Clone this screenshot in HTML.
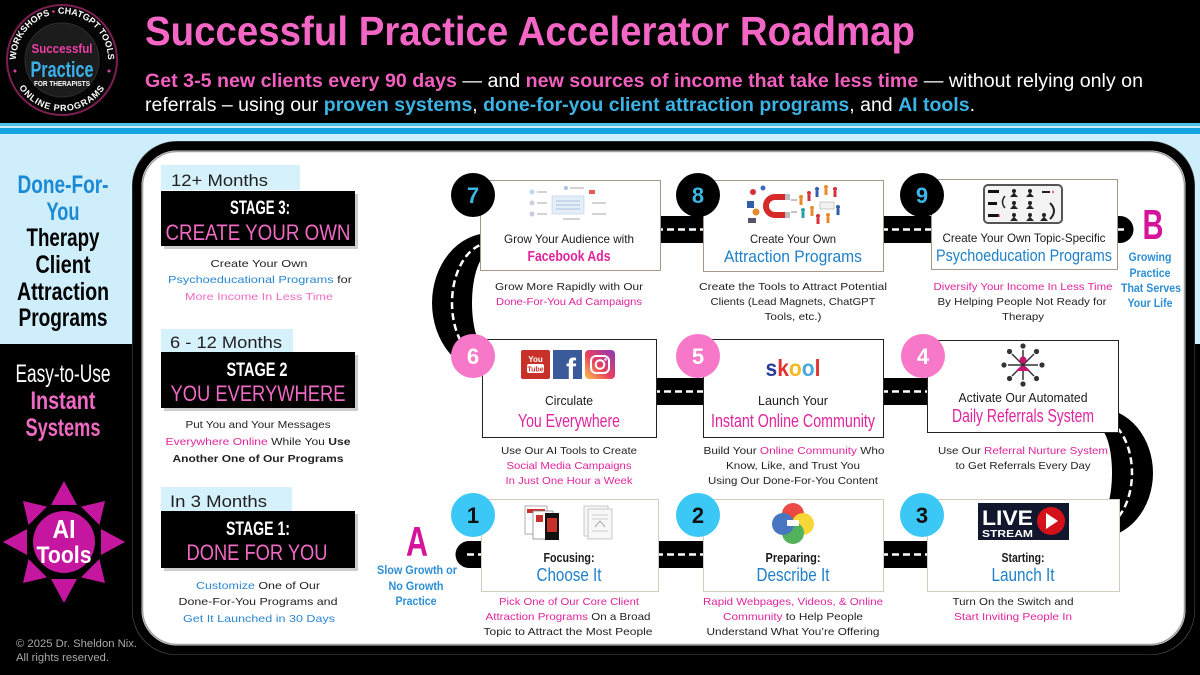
<!DOCTYPE html>
<html><head><meta charset="utf-8">
<style>
html,body{margin:0;padding:0;background:#000;}
svg{display:block;}
text{font-family:"Liberation Sans",Arial,sans-serif;}
.d{font-size:10.5px;fill:#222;}
.pk{fill:#e0249c;}
.bl{fill:#1f80c8;}
.t12{font-size:12px;fill:#1a1a1a;}
.num{font-size:22px;font-weight:bold;}
</style></head><body>
<svg width="1200" height="675" viewBox="0 0 1200 675" xmlns="http://www.w3.org/2000/svg">
<defs>
<linearGradient id="ig" x1="0" y1="1" x2="1" y2="0">
<stop offset="0" stop-color="#fcc34f"/><stop offset="0.45" stop-color="#e8415e"/><stop offset="1" stop-color="#8a3ab9"/>
</linearGradient>
<path id="topArc" d="M16.2,64 A46,46 0 1 1 107.8,64"/>
<path id="botArc" d="M17.8,85.5 A51,51 0 0 0 106.2,85.5"/>
</defs>

<rect width="1200" height="675" fill="#000"/>
<!-- stripes + pale band -->
<rect x="0" y="123" width="1200" height="3" fill="#4fc3ee"/>
<rect x="0" y="126" width="1200" height="2" fill="#c9eefa"/>
<rect x="0" y="128" width="1200" height="6" fill="#12a5e0"/>
<rect x="0" y="134" width="1200" height="210" fill="#cdeefa"/>

<!-- LOGO -->
<circle cx="62" cy="60" r="55" fill="#050505" stroke="#7c1e52" stroke-width="2"/>
<circle cx="62" cy="60" r="37" fill="#1c1c1c" stroke="#2e2e2e" stroke-width="1"/>
<text font-size="9" font-weight="bold" fill="#fff"><textPath href="#topArc" startOffset="50%" text-anchor="middle">WORKSHOPS <tspan fill="#e0409f">•</tspan> CHATGPT TOOLS</textPath></text>
<text font-size="9" font-weight="bold" fill="#fff" letter-spacing="0.8"><textPath href="#botArc" startOffset="50%" text-anchor="middle">ONLINE PROGRAMS</textPath></text>
<circle cx="15" cy="71" r="1.5" fill="#e0409f"/>
<circle cx="109" cy="71" r="1.5" fill="#e0409f"/>
<text x="62" y="53" font-size="13" font-weight="bold" fill="#ef3fa7" text-anchor="middle" textLength="61" lengthAdjust="spacingAndGlyphs">Successful</text>
<text x="62" y="77" font-size="22" font-weight="bold" fill="#3ab0ea" text-anchor="middle" textLength="63" lengthAdjust="spacingAndGlyphs">Practice</text>
<text x="62" y="86" font-size="7" font-weight="bold" fill="#fff" text-anchor="middle" textLength="56" lengthAdjust="spacingAndGlyphs">FOR THERAPISTS</text>

<!-- TITLE -->
<text x="145" y="45" font-size="41" font-weight="bold" fill="#f466c6" textLength="770" lengthAdjust="spacingAndGlyphs">Successful Practice Accelerator Roadmap</text>
<text x="145" y="87" font-size="19" fill="#fff" textLength="998" lengthAdjust="spacingAndGlyphs"><tspan fill="#f25fbf" font-weight="bold">Get 3-5 new clients every 90 days</tspan> — and <tspan fill="#f25fbf" font-weight="bold">new sources of income that take less time</tspan> — without relying only on</text>
<text x="145" y="111" font-size="19" fill="#fff" textLength="830" lengthAdjust="spacingAndGlyphs">referrals – using our <tspan fill="#3bb4e5" font-weight="bold">proven systems</tspan>, <tspan fill="#3bb4e5" font-weight="bold">done-for-you client attraction programs</tspan>, and <tspan fill="#3bb4e5" font-weight="bold">AI tools</tspan>.</text>

<!-- LEFT SIDEBAR -->
<g font-weight="bold" font-size="25" text-anchor="middle">
<text x="63" y="193" fill="#1b8ad6" textLength="91" lengthAdjust="spacingAndGlyphs">Done-For-</text>
<text x="63" y="220" fill="#1b8ad6" textLength="33" lengthAdjust="spacingAndGlyphs">You</text>
<text x="63" y="246" fill="#000" textLength="73" lengthAdjust="spacingAndGlyphs">Therapy</text>
<text x="63" y="273" fill="#000" textLength="55" lengthAdjust="spacingAndGlyphs">Client</text>
<text x="63" y="300" fill="#000" textLength="92" lengthAdjust="spacingAndGlyphs">Attraction</text>
<text x="63" y="326" fill="#000" textLength="89" lengthAdjust="spacingAndGlyphs">Programs</text>
<text x="63" y="382" fill="#fff" font-weight="normal" textLength="95" lengthAdjust="spacingAndGlyphs">Easy-to-Use</text>
<text x="63" y="409" fill="#f06ac4" textLength="65" lengthAdjust="spacingAndGlyphs">Instant</text>
<text x="63" y="436" fill="#f06ac4" textLength="75" lengthAdjust="spacingAndGlyphs">Systems</text>
</g>

<!-- AI STAR -->
<g fill="#c4169e">
<polygon points="64,481 51,505 77,505"/>
<polygon points="64,603 51,579 77,579"/>
<polygon points="3,542 27,529 27,555"/>
<polygon points="125,542 101,529 101,555"/>
<polygon points="105,501 99.4,525 81,506.6"/>
<polygon points="105,583 81,577.4 99.4,559"/>
<polygon points="23,583 47,577.4 28.6,559"/>
<polygon points="23,501 47,506.6 28.6,525"/>
<circle cx="64" cy="542" r="31"/>
</g>
<text x="64" y="538" font-size="26" font-weight="bold" fill="#fff" text-anchor="middle" textLength="23" lengthAdjust="spacingAndGlyphs">AI</text>
<text x="64" y="563" font-size="24" font-weight="bold" fill="#fff" text-anchor="middle" textLength="55" lengthAdjust="spacingAndGlyphs">Tools</text>

<text x="16" y="647" font-size="11" fill="#aaa" textLength="121" lengthAdjust="spacingAndGlyphs">© 2025 Dr. Sheldon Nix.</text>
<text x="16" y="661" font-size="11" fill="#aaa" textLength="93" lengthAdjust="spacingAndGlyphs">All rights reserved.</text>

<!-- FRAME -->
<rect x="132.5" y="141.5" width="1062" height="513" rx="44" fill="none" stroke="#555" stroke-width="1"/>
<rect x="137" y="146" width="1053" height="504" rx="40" fill="#fff" stroke="#000" stroke-width="9"/>
<rect x="142.5" y="151.5" width="1042" height="493" rx="35" fill="none" stroke="#a0a0a0" stroke-width="1.5"/>

<!-- STAGE COLUMN -->
<rect x="161" y="165" width="139" height="25" fill="#d5f1fb"/>
<text x="171" y="186" font-size="17" fill="#222" textLength="97" lengthAdjust="spacingAndGlyphs">12+ Months</text>
<rect x="164" y="194" width="194" height="55" fill="#999" opacity="0.5"/>
<rect x="161" y="191" width="194" height="55" fill="#000"/>
<text x="260" y="214" font-size="19" font-weight="bold" fill="#fff" text-anchor="middle" textLength="60" lengthAdjust="spacingAndGlyphs">STAGE 3:</text>
<text x="258" y="240" font-size="22" fill="#f06ac4" text-anchor="middle" textLength="185" lengthAdjust="spacingAndGlyphs">CREATE YOUR OWN</text>
<g class="d" text-anchor="middle" font-size="11">
<text x="259" y="267" textLength="97" lengthAdjust="spacingAndGlyphs">Create Your Own</text>
<text x="260" y="283" textLength="184" lengthAdjust="spacingAndGlyphs"><tspan fill="#2a86d0">Psychoeducational Programs</tspan> for</text>
<text x="259" y="300" fill="#f06ac4" textLength="148" lengthAdjust="spacingAndGlyphs">More Income In Less Time</text>
</g>

<rect x="161" y="329" width="132" height="24" fill="#d5f1fb"/>
<text x="170" y="348" font-size="17" fill="#222" textLength="112" lengthAdjust="spacingAndGlyphs">6 - 12 Months</text>
<rect x="164" y="355" width="194" height="56" fill="#999" opacity="0.5"/>
<rect x="161" y="352" width="194" height="56" fill="#000"/>
<text x="257" y="376" font-size="19" font-weight="bold" fill="#fff" text-anchor="middle" textLength="61" lengthAdjust="spacingAndGlyphs">STAGE 2</text>
<text x="258" y="401" font-size="22" fill="#f06ac4" text-anchor="middle" textLength="175" lengthAdjust="spacingAndGlyphs">YOU EVERYWHERE</text>
<g class="d" text-anchor="middle" font-size="11">
<text x="258" y="428" textLength="145" lengthAdjust="spacingAndGlyphs">Put You and Your Messages</text>
<text x="258" y="445" textLength="185" lengthAdjust="spacingAndGlyphs"><tspan fill="#e0249c">Everywhere Online</tspan> While You <tspan font-weight="bold">Use</tspan></text>
<text x="258" y="462" font-weight="bold" textLength="171" lengthAdjust="spacingAndGlyphs">Another One of Our Programs</text>
</g>

<rect x="161" y="487" width="131" height="24" fill="#d5f1fb"/>
<text x="170" y="507" font-size="17" fill="#222" textLength="97" lengthAdjust="spacingAndGlyphs">In 3 Months</text>
<rect x="164" y="514" width="194" height="57" fill="#999" opacity="0.5"/>
<rect x="161" y="511" width="194" height="57" fill="#000"/>
<text x="258" y="535" font-size="19" font-weight="bold" fill="#fff" text-anchor="middle" textLength="64" lengthAdjust="spacingAndGlyphs">STAGE 1:</text>
<text x="257" y="560" font-size="22" fill="#f06ac4" text-anchor="middle" textLength="141" lengthAdjust="spacingAndGlyphs">DONE FOR YOU</text>
<g class="d" text-anchor="middle" font-size="11">
<text x="258" y="589" textLength="124" lengthAdjust="spacingAndGlyphs"><tspan fill="#2a86d0">Customize</tspan> One of Our</text>
<text x="258" y="605" textLength="159" lengthAdjust="spacingAndGlyphs">Done-For-You Programs and</text>
<text x="259" y="622" fill="#2a86d0" textLength="152" lengthAdjust="spacingAndGlyphs">Get It Launched in 30 Days</text>
</g>

<!-- ROADS -->
<g fill="#000">
<rect x="655" y="216" width="52" height="27"/>
<rect x="880" y="216" width="55" height="27"/>
<path d="M1112,216 H1120 A13.5,13.5 0 0 1 1120,243 H1112 Z"/>
<rect x="652" y="378" width="55" height="27"/>
<rect x="880" y="378" width="52" height="27"/>
<rect x="655" y="541" width="52" height="27"/>
<rect x="880" y="541" width="52" height="27"/>
<path d="M485,541 H469 A13.5,13.5 0 0 0 469,568 H485 Z"/>
<path d="M490,233 A58,70 0 0 0 490,373 L490,353 A18,50 0 0 1 490,253 Z"/>
<path d="M1098,408 A55,65 0 0 1 1098,538 L1098,518 A14,45 0 0 0 1098,428 Z"/>
</g>
<g stroke="#fff" stroke-width="2.5" fill="none" stroke-dasharray="7 4">
<line x1="656" y1="229.5" x2="706" y2="229.5"/>
<line x1="881" y1="229.5" x2="934" y2="229.5"/>
<line x1="1117" y1="229.5" x2="1125" y2="229.5"/>
<line x1="653" y1="391.5" x2="706" y2="391.5"/>
<line x1="881" y1="391.5" x2="931" y2="391.5"/>
<line x1="656" y1="554.5" x2="706" y2="554.5"/>
<line x1="881" y1="554.5" x2="931" y2="554.5"/>
<line x1="467" y1="554.5" x2="484" y2="554.5"/>
<path d="M490,243 A38,60 0 0 0 490,363"/>
<path d="M1098,418 A34,55 0 0 1 1098,528"/>
</g>

<!-- ROW 1 CARDS -->
<rect x="480.5" y="180.5" width="180" height="90" fill="#fff" stroke="#a89888"/>
<rect x="703.5" y="180.5" width="180" height="91" fill="#fff" stroke="#a89888"/>
<rect x="931.5" y="179.5" width="186" height="90" fill="#fff" stroke="#a89888"/>

<!-- card7 image -->
<g>
<rect x="552" y="196" width="32" height="18" fill="#e3eef9" stroke="#b8cde2" stroke-width="0.6"/>
<g stroke="#a9c1da" stroke-width="1"><line x1="556" y1="201" x2="580" y2="201"/><line x1="556" y1="205" x2="580" y2="205"/><line x1="556" y1="209" x2="580" y2="209"/></g>
<circle cx="532" cy="192" r="2.5" fill="#c3d6ea"/><circle cx="532" cy="203" r="2.5" fill="#c9d2dc"/><circle cx="532" cy="214" r="2.5" fill="#d0c8dc"/>
<g stroke="#c4c4c4" stroke-width="1.5"><line x1="537" y1="192" x2="547" y2="192"/><line x1="537" y1="203" x2="547" y2="203"/><line x1="537" y1="214" x2="547" y2="214"/><line x1="592" y1="203" x2="606" y2="203"/><line x1="592" y1="214" x2="606" y2="214"/><line x1="563" y1="219" x2="580" y2="219"/><line x1="570" y1="188" x2="584" y2="188"/></g>
<rect x="589" y="190" width="6" height="4" fill="#e35a5a"/><circle cx="566" cy="188" r="2" fill="#a8c3e0"/>
</g>
<!-- card8 image -->
<g>
<path d="M787,197 H775 A9,9 0 0 0 775,215 H787" stroke="#d62a2a" stroke-width="6" fill="none"/>
<rect x="785" y="194" width="5" height="6" fill="#bbb"/><rect x="785" y="212" width="5" height="6" fill="#bbb"/>
<circle cx="753" cy="192" r="3" fill="#d2323a"/><rect x="747" y="201" width="7" height="7" fill="#2f5fa8"/><circle cx="756" cy="212" r="3.5" fill="#e8892b"/><rect x="748" y="218" width="8" height="5" fill="#556"/><circle cx="763" cy="188" r="2.5" fill="#3a6bb8"/>
<g stroke="#999" stroke-width="1.2"><line x1="791" y1="200" x2="797" y2="200"/><line x1="791" y1="212" x2="797" y2="212"/></g>
<g>
<circle cx="801" cy="197" r="2" fill="#e8892b"/><rect x="799.5" y="199" width="3" height="6" fill="#e8892b"/>
<circle cx="809" cy="193" r="2" fill="#d2323a"/><rect x="807.5" y="195" width="3" height="6" fill="#d2323a"/>
<circle cx="817" cy="189" r="2" fill="#2f5fa8"/><rect x="815.5" y="191" width="3" height="6" fill="#2f5fa8"/>
<circle cx="826" cy="187" r="2" fill="#e8892b"/><rect x="824.5" y="189" width="3" height="6" fill="#e8892b"/>
<circle cx="835" cy="189" r="2" fill="#d2323a"/><rect x="833.5" y="191" width="3" height="6" fill="#d2323a"/>
<circle cx="803" cy="210" r="2" fill="#2aa0a0"/><rect x="801.5" y="212" width="3" height="6" fill="#2aa0a0"/>
<circle cx="812" cy="208" r="2" fill="#e8892b"/><rect x="810.5" y="210" width="3" height="6" fill="#e8892b"/>
<rect x="820" y="202" width="14" height="7" fill="#f2f2f2" stroke="#999" stroke-width="0.5"/>
<circle cx="838" cy="207" r="2" fill="#2f5fa8"/><rect x="836.5" y="209" width="3" height="6" fill="#2f5fa8"/>
<circle cx="818" cy="216" r="2" fill="#d2323a"/><rect x="816.5" y="218" width="3" height="6" fill="#d2323a"/>
<circle cx="828" cy="215" r="2" fill="#e8892b"/><rect x="826.5" y="217" width="3" height="6" fill="#e8892b"/>
</g>
</g>
<!-- card9 icon -->
<g>
<rect x="984" y="185" width="78" height="38" rx="4" fill="#f3f3f3" stroke="#555" stroke-width="2"/>
<rect x="988" y="190" width="11" height="3" fill="#111"/><rect x="988" y="202" width="9" height="3" fill="#111"/><rect x="988" y="214" width="11" height="3" fill="#111"/>
<g fill="#222">
<circle cx="1014" cy="191" r="2"/><path d="M1010,197 L1014,192.5 L1018,197 Z"/>
<circle cx="1030" cy="191" r="2"/><path d="M1026,197 L1030,192.5 L1034,197 Z"/>
<circle cx="1014" cy="203" r="2"/><path d="M1010,209 L1014,204.5 L1018,209 Z"/>
<circle cx="1030" cy="203" r="2"/><path d="M1026,209 L1030,204.5 L1034,209 Z"/>
<circle cx="1014" cy="215" r="2"/><path d="M1010,221 L1014,216.5 L1018,221 Z"/>
<circle cx="1030" cy="215" r="2"/><path d="M1026,221 L1030,216.5 L1034,221 Z"/>
<circle cx="1044" cy="215" r="2"/><path d="M1040,221 L1044,216.5 L1048,221 Z"/>
</g>
<path d="M1005,196 Q1000,202 1005,208" stroke="#222" stroke-width="1.5" fill="none"/>
<path d="M1050,203 Q1058,211 1050,219" stroke="#222" stroke-width="2" fill="none"/>
<rect x="1042" y="191" width="8" height="2" fill="#222"/>
<circle cx="1053" cy="192" r="1" fill="#e0249c"/><circle cx="999" cy="216" r="1" fill="#e0249c"/>
</g>

<text x="569" y="243" class="t12" text-anchor="middle" textLength="130" lengthAdjust="spacingAndGlyphs">Grow Your Audience with</text>
<text x="569" y="261" font-size="15" font-weight="bold" class="pk" text-anchor="middle" textLength="83" lengthAdjust="spacingAndGlyphs">Facebook Ads</text>
<text x="793" y="243" class="t12" text-anchor="middle" textLength="86" lengthAdjust="spacingAndGlyphs">Create Your Own</text>
<text x="793" y="262" font-size="17" class="bl" text-anchor="middle" textLength="138" lengthAdjust="spacingAndGlyphs">Attraction Programs</text>
<text x="1024" y="242" class="t12" text-anchor="middle" textLength="163" lengthAdjust="spacingAndGlyphs">Create Your Own Topic-Specific</text>
<text x="1024" y="261" font-size="17" class="bl" text-anchor="middle" textLength="176" lengthAdjust="spacingAndGlyphs">Psychoeducation Programs</text>

<g class="d" text-anchor="middle">
<text x="569" y="290" textLength="148" lengthAdjust="spacingAndGlyphs">Grow More Rapidly with Our</text>
<text x="569" y="305" class="pk" textLength="146" lengthAdjust="spacingAndGlyphs">Done-For-You Ad Campaigns</text>
<text x="793" y="290" textLength="188" lengthAdjust="spacingAndGlyphs">Create the Tools to Attract Potential</text>
<text x="793" y="305" textLength="165" lengthAdjust="spacingAndGlyphs">Clients (Lead Magnets, ChatGPT</text>
<text x="793" y="320" textLength="57" lengthAdjust="spacingAndGlyphs">Tools, etc.)</text>
<text x="1023" y="290" class="pk" textLength="179" lengthAdjust="spacingAndGlyphs">Diversify Your Income In Less Time</text>
<text x="1022" y="305" textLength="169" lengthAdjust="spacingAndGlyphs">By Helping People Not Ready for</text>
<text x="1023" y="320" textLength="42" lengthAdjust="spacingAndGlyphs">Therapy</text>
</g>

<!-- B -->
<text transform="translate(1153,239) scale(1,1.35)" x="0" y="0" font-size="31" font-weight="bold" fill="#d6139b" text-anchor="middle" textLength="21" lengthAdjust="spacingAndGlyphs">B</text>
<g font-size="12" font-weight="bold" fill="#2c8fd4" text-anchor="middle">
<text x="1150" y="261" textLength="43" lengthAdjust="spacingAndGlyphs">Growing</text>
<text x="1150" y="277" textLength="41" lengthAdjust="spacingAndGlyphs">Practice</text>
<text x="1151" y="292" textLength="60" lengthAdjust="spacingAndGlyphs">That Serves</text>
<text x="1150" y="307" textLength="45" lengthAdjust="spacingAndGlyphs">Your Life</text>
</g>

<!-- ROW 2 CARDS -->
<rect x="482.5" y="339.5" width="174" height="98" fill="#fff" stroke="#222"/>
<rect x="703.5" y="339.5" width="180" height="98" fill="#fff" stroke="#222"/>
<rect x="927.5" y="340.5" width="191" height="92" fill="#fff" stroke="#222"/>

<!-- socials -->
<rect x="521" y="350" width="29" height="29" rx="2" fill="#c8312a"/>
<text x="535.5" y="362" font-size="8" font-weight="bold" fill="#fff" text-anchor="middle">You</text>
<rect x="527" y="364" width="17" height="9" rx="2" fill="#fff"/>
<text x="535.5" y="371.5" font-size="7" font-weight="bold" fill="#c8312a" text-anchor="middle">Tube</text>
<rect x="553" y="350" width="29" height="29" fill="#3b5a9a"/>
<text x="571" y="379" font-size="30" font-weight="bold" fill="#fff" text-anchor="middle">f</text>
<rect x="585" y="350" width="30" height="29" rx="4" fill="url(#ig)"/>
<rect x="591" y="356" width="18" height="17" rx="5" fill="none" stroke="#fff" stroke-width="2"/>
<circle cx="600" cy="364.5" r="4.3" fill="none" stroke="#fff" stroke-width="2"/>
<circle cx="605.5" cy="359.5" r="1.2" fill="#fff"/>

<!-- skool -->
<text x="793" y="376" font-size="23" font-weight="bold" text-anchor="middle" textLength="55" lengthAdjust="spacingAndGlyphs"><tspan fill="#283c9e">s</tspan><tspan fill="#e2322f">k</tspan><tspan fill="#f5b820">o</tspan><tspan fill="#49a9dc">o</tspan><tspan fill="#e2322f">l</tspan></text>

<!-- network icon -->
<g stroke="#333" stroke-width="1.5">
<line x1="1023" y1="365" x2="1023" y2="350"/><line x1="1023" y1="365" x2="1034" y2="354"/><line x1="1023" y1="365" x2="1038" y2="365"/><line x1="1023" y1="365" x2="1034" y2="376"/><line x1="1023" y1="365" x2="1023" y2="380"/><line x1="1023" y1="365" x2="1012" y2="376"/><line x1="1023" y1="365" x2="1008" y2="365"/><line x1="1023" y1="365" x2="1012" y2="354"/>
</g>
<g fill="#333">
<circle cx="1023" cy="346" r="2.6"/><circle cx="1036.5" cy="351.5" r="2.6"/><circle cx="1042" cy="365" r="2.6"/><circle cx="1036.5" cy="378.5" r="2.6"/><circle cx="1023" cy="384" r="2.6"/><circle cx="1009.5" cy="378.5" r="2.6"/><circle cx="1004" cy="365" r="2.6"/><circle cx="1009.5" cy="351.5" r="2.6"/>
</g>
<circle cx="1023" cy="360" r="3.5" fill="#c4166e"/>
<path d="M1016,371 Q1023,361 1030,371 Z" fill="#c4166e"/>

<text x="569" y="405" font-size="13" fill="#1a1a1a" text-anchor="middle" textLength="48" lengthAdjust="spacingAndGlyphs">Circulate</text>
<text x="569" y="427" font-size="18" class="pk" text-anchor="middle" textLength="102" lengthAdjust="spacingAndGlyphs">You Everywhere</text>
<text x="793" y="405" font-size="13" fill="#1a1a1a" text-anchor="middle" textLength="70" lengthAdjust="spacingAndGlyphs">Launch Your</text>
<text x="793" y="427" font-size="18" class="pk" text-anchor="middle" textLength="164" lengthAdjust="spacingAndGlyphs">Instant Online Community</text>
<text x="1023" y="402" font-size="13" fill="#1a1a1a" text-anchor="middle" textLength="129" lengthAdjust="spacingAndGlyphs">Activate Our Automated</text>
<text x="1023" y="422" font-size="18" class="pk" text-anchor="middle" textLength="142" lengthAdjust="spacingAndGlyphs">Daily Referrals System</text>

<g class="d" text-anchor="middle">
<text x="569" y="454" textLength="136" lengthAdjust="spacingAndGlyphs">Use Our AI Tools to Create</text>
<text x="569" y="469" class="pk" textLength="125" lengthAdjust="spacingAndGlyphs">Social Media Campaigns</text>
<text x="569" y="484" class="pk" textLength="127" lengthAdjust="spacingAndGlyphs">In Just One Hour a Week</text>
<text x="794" y="454" textLength="181" lengthAdjust="spacingAndGlyphs">Build Your <tspan fill="#e0249c">Online Community</tspan> Who</text>
<text x="793" y="469" textLength="134" lengthAdjust="spacingAndGlyphs">Know, Like, and Trust You</text>
<text x="793" y="484" textLength="170" lengthAdjust="spacingAndGlyphs">Using Our Done-For-You Content</text>
<text x="1023" y="454" textLength="170" lengthAdjust="spacingAndGlyphs">Use Our <tspan fill="#e0249c">Referral Nurture System</tspan></text>
<text x="1023" y="469" textLength="135" lengthAdjust="spacingAndGlyphs">to Get Referrals Every Day</text>
</g>

<!-- ROW 3 CARDS -->
<rect x="481.5" y="499.5" width="177" height="92" fill="#fff" stroke="#d4cabd"/>
<rect x="703.5" y="499.5" width="180" height="92" fill="#fff" stroke="#d4cabd"/>
<rect x="927.5" y="499.5" width="192" height="92" fill="#fff" stroke="#d4cabd"/>

<!-- card1 images -->
<rect x="525" y="506" width="22" height="28" fill="#fff" stroke="#999" stroke-width="0.8"/>
<rect x="527" y="509" width="18" height="4" fill="#c8312a"/>
<rect x="533" y="511" width="20" height="28" fill="#fff" stroke="#888" stroke-width="0.8"/>
<rect x="536" y="515" width="7" height="7" fill="#c8312a"/>
<rect x="545" y="513" width="14" height="27" fill="#111"/>
<rect x="547" y="518" width="10" height="14" fill="#c8312a"/>
<rect x="584" y="506" width="24" height="30" fill="#f7f7f7" stroke="#bbb" stroke-width="0.8"/>
<rect x="588" y="509" width="24" height="30" fill="#f7f7f7" stroke="#bbb" stroke-width="0.8"/>
<g stroke="#ccc" stroke-width="1"><line x1="592" y1="515" x2="608" y2="515"/><line x1="592" y1="519" x2="608" y2="519"/><line x1="592" y1="531" x2="608" y2="531"/></g>
<path d="M595,527 L600,521 L605,527" stroke="#aaa" fill="none"/>

<!-- venn -->
<g opacity="0.88">
<circle cx="793" cy="514" r="11" fill="#e8312b"/>
<circle cx="803" cy="524" r="11" fill="#f6d21c"/>
<circle cx="793" cy="533" r="11" fill="#3aa845"/>
<circle cx="783" cy="524" r="11" fill="#2f64b8"/>
</g>
<rect x="787" y="520" width="12" height="6" fill="#fff"/>

<!-- live stream -->
<rect x="978" y="503" width="91" height="37" fill="#12172e"/>
<text x="982" y="525" font-size="21" font-weight="bold" fill="#fff" textLength="51" lengthAdjust="spacingAndGlyphs">LIVE</text>
<text x="982" y="537" font-size="10" font-weight="bold" fill="#fff" textLength="51" lengthAdjust="spacingAndGlyphs">STREAM</text>
<circle cx="1051" cy="521" r="14" fill="#d4111b"/>
<path d="M1046,513 L1058,521 L1046,529 Z" fill="#fff"/>

<text x="569" y="562" font-size="13" font-weight="bold" fill="#1a1a1a" text-anchor="middle" textLength="51" lengthAdjust="spacingAndGlyphs">Focusing:</text>
<text x="569" y="581" font-size="18" class="bl" text-anchor="middle" textLength="65" lengthAdjust="spacingAndGlyphs">Choose It</text>
<text x="793" y="562" font-size="13" font-weight="bold" fill="#1a1a1a" text-anchor="middle" textLength="55" lengthAdjust="spacingAndGlyphs">Preparing:</text>
<text x="793" y="581" font-size="18" class="bl" text-anchor="middle" textLength="73" lengthAdjust="spacingAndGlyphs">Describe It</text>
<text x="1023" y="562" font-size="13" font-weight="bold" fill="#1a1a1a" text-anchor="middle" textLength="43" lengthAdjust="spacingAndGlyphs">Starting:</text>
<text x="1023" y="581" font-size="18" class="bl" text-anchor="middle" textLength="63" lengthAdjust="spacingAndGlyphs">Launch It</text>

<g class="d" text-anchor="middle">
<text x="569" y="605" class="pk" textLength="140" lengthAdjust="spacingAndGlyphs">Pick One of Our Core Client</text>
<text x="568" y="620" textLength="165" lengthAdjust="spacingAndGlyphs"><tspan fill="#e0249c">Attraction Programs</tspan> On a Broad</text>
<text x="568" y="635" textLength="169" lengthAdjust="spacingAndGlyphs">Topic to Attract the Most People</text>
<text x="793" y="605" class="pk" textLength="180" lengthAdjust="spacingAndGlyphs">Rapid Webpages, Videos, &amp; Online</text>
<text x="793" y="620" textLength="140" lengthAdjust="spacingAndGlyphs"><tspan fill="#e0249c">Community</tspan> to Help People</text>
<text x="793" y="635" textLength="173" lengthAdjust="spacingAndGlyphs">Understand What You’re Offering</text>
<text x="1013" y="605" textLength="121" lengthAdjust="spacingAndGlyphs">Turn On the Switch and</text>
<text x="1013" y="620" class="pk" textLength="118" lengthAdjust="spacingAndGlyphs">Start Inviting People In</text>
</g>

<!-- A -->
<text transform="translate(417,556) scale(1,1.35)" x="0" y="0" font-size="31" font-weight="bold" fill="#d6139b" text-anchor="middle" textLength="22" lengthAdjust="spacingAndGlyphs">A</text>
<g font-size="12" font-weight="bold" fill="#2c8fd4" text-anchor="middle">
<text x="417" y="574" textLength="80" lengthAdjust="spacingAndGlyphs">Slow Growth or</text>
<text x="416" y="590" textLength="55" lengthAdjust="spacingAndGlyphs">No Growth</text>
<text x="416" y="605" textLength="41" lengthAdjust="spacingAndGlyphs">Practice</text>
</g>

<!-- NUMBER CIRCLES -->
<g>
<circle cx="473" cy="195" r="22" fill="#000"/><text x="473" y="203" class="num" fill="#3db5e6" text-anchor="middle">7</text>
<circle cx="698" cy="195" r="22" fill="#000"/><text x="698" y="203" class="num" fill="#3db5e6" text-anchor="middle">8</text>
<circle cx="922" cy="195" r="22" fill="#000"/><text x="922" y="203" class="num" fill="#3db5e6" text-anchor="middle">9</text>
<circle cx="473" cy="356" r="22" fill="#f777c8"/><text x="473" y="364" class="num" fill="#fff" text-anchor="middle">6</text>
<circle cx="698" cy="356" r="22" fill="#f777c8"/><text x="698" y="364" class="num" fill="#fff" text-anchor="middle">5</text>
<circle cx="923" cy="356" r="22" fill="#f777c8"/><text x="923" y="364" class="num" fill="#fff" text-anchor="middle">4</text>
<circle cx="473" cy="515" r="22" fill="#3cc8f6"/><text x="473" y="523" class="num" fill="#111" text-anchor="middle">1</text>
<circle cx="698" cy="515" r="22" fill="#3cc8f6"/><text x="698" y="523" class="num" fill="#111" text-anchor="middle">2</text>
<circle cx="922" cy="515" r="22" fill="#3cc8f6"/><text x="922" y="523" class="num" fill="#111" text-anchor="middle">3</text>
</g>
</svg>
</body></html>
